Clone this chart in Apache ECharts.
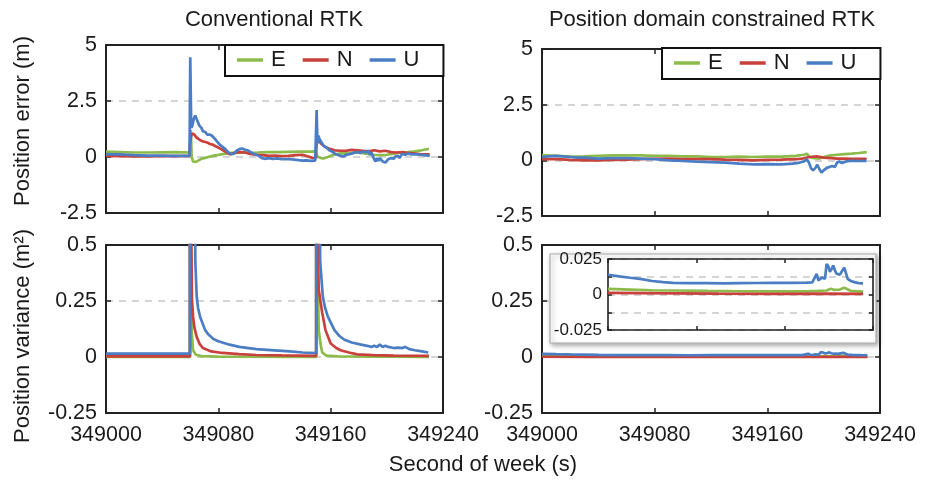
<!DOCTYPE html>
<html><head><meta charset="utf-8">
<script src="https://cdn.jsdelivr.net/npm/echarts@6/dist/echarts.min.js"></script>
<style>html,body{margin:0;padding:0;background:#fff}#c{width:930px;height:480px}</style>
</head><body><div id="c"></div>
<script>
// ---- axis / text data ----
const WEEK_SEC_BASE = 349000;            // x values below are seconds after this
const xTickLabels = ['349000', '349080', '349160', '349240'];
const panelTitles = ['Conventional RTK', 'Position domain constrained RTK'];
const yNames = ['Position error (m)', 'Position variance (m\u00B2)'];
const xName = 'Second of week (s)';
const seriesNames = ['E', 'N', 'U'];

// ---- Conventional RTK, position error (m) ----
const convErrE = [[0,0.24],[10,0.22],[20,0.2],[30,0.2],[40,0.21],[50,0.22],[59.5,0.2],[60,0.15],[60.4,1.2],[61,0.0],[62,-0.2],[63,-0.25],[64,-0.22],[66,-0.15],[68,-0.08],[70,-0.05],[73,0.0],[76,0.05],[79,0.08],[82,0.12],[85,0.15],[89,0.18],[95,0.2],[100,0.19],[108,0.2],[115,0.22],[122,0.22],[130,0.23],[138,0.24],[145,0.24],[149.5,0.25],[150,0.1],[151,0.0],[153,-0.05],[155,-0.06],[158,0.0],[162,0.1],[166,0.15],[170,0.17],[175,0.18],[180,0.2],[185,0.15],[190,0.1],[195,0.08],[200,0.1],[205,0.15],[210,0.2],[215,0.22],[220,0.25],[225,0.3],[230,0.37]];
const convErrN = [[0,0.05],[10,0.04],[20,0.03],[30,0.03],[40,0.04],[50,0.04],[59.5,0.05],[60,0.7],[61,1.05],[62,1.13],[63,1.0],[64,0.9],[65,0.95],[66,0.8],[68,0.72],[70,0.68],[72,0.65],[74,0.58],[76,0.55],[78,0.48],[80,0.42],[82,0.35],[84,0.28],[86,0.2],[88,0.13],[90,0.15],[93,0.2],[96,0.22],[99,0.2],[102,0.15],[105,0.12],[108,0.1],[112,0.08],[116,0.05],[120,0.06],[125,0.04],[130,0.05],[135,0.08],[140,0.1],[144,0.02],[147,-0.04],[149.5,-0.05],[150,0.6],[151,0.9],[152,0.75],[153,0.6],[155,0.5],[157,0.42],[160,0.35],[163,0.3],[167,0.28],[171,0.28],[175,0.32],[179,0.3],[183,0.28],[187,0.25],[191,0.3],[195,0.25],[199,0.28],[203,0.22],[207,0.2],[211,0.22],[215,0.18],[220,0.15],[225,0.12],[230.5,0.12]];
const convErrU = [[0,0.13],[5,0.12],[10,0.12],[15,0.1],[20,0.08],[25,0.07],[30,0.06],[35,0.06],[40,0.06],[45,0.05],[50,0.05],[55,0.05],[59.5,0.05],[60,4.45],[60.7,1.3],[61.5,1.4],[62.5,1.7],[63.5,1.85],[64.5,1.8],[65.5,1.55],[66.5,1.4],[68,1.3],[69,1.15],[70,1.1],[71,1.1],[72,1.0],[74,1.0],[75.5,0.95],[77,0.85],[79,0.7],[81,0.55],[83,0.45],[85,0.35],[87,0.22],[89,0.12],[91,0.15],[93,0.28],[95,0.35],[97,0.38],[99,0.32],[101,0.3],[103,0.22],[105,0.15],[107,0.1],[109,0.05],[111,-0.05],[113,-0.08],[116,-0.05],[119,-0.08],[122,-0.06],[125,-0.1],[128,-0.09],[131,-0.1],[134,-0.12],[137,-0.14],[140,-0.16],[143,-0.15],[146,-0.17],[149,-0.16],[149.7,-0.1],[150,2.1],[150.6,0.6],[151.3,0.95],[152,0.8],[153,0.85],[154,0.6],[155,0.5],[157,0.42],[159,0.3],[161,0.25],[163,0.15],[165,0.1],[167,0.05],[169,0.02],[171,0.1],[173,0.12],[175,0.15],[177,0.2],[179,0.22],[181,0.18],[183,0.25],[185,0.2],[187,0.28],[188,0.1],[189,0.2],[190,0.05],[191,-0.1],[192,-0.2],[193,-0.05],[194,-0.18],[195,-0.05],[196,-0.08],[197,-0.2],[198,-0.15],[199,-0.25],[200,-0.22],[201,-0.1],[202,-0.15],[203,-0.05],[204,0.0],[205,-0.08],[206,0.02],[207,-0.05],[208,0.05],[209,-0.05],[210,0.0],[211,0.15],[212,0.22],[213,0.1],[215,0.15],[218,0.12],[221,0.12],[224,0.1],[227,0.08],[230.5,0.05]];

// ---- Position domain constrained RTK, position error (m) ----
const pdcErrE = [[0,0.23],[10,0.2],[20,0.17],[30,0.18],[40,0.2],[50,0.22],[60,0.22],[70,0.22],[80,0.2],[90,0.2],[100,0.18],[110,0.18],[120,0.15],[130,0.15],[140,0.17],[150,0.15],[160,0.17],[170,0.17],[180,0.2],[186,0.25],[188,0.3],[190,0.15],[193,0.1],[197,0.08],[200,0.15],[205,0.22],[210,0.25],[215,0.28],[220,0.3],[225,0.33],[230.5,0.37]];
const pdcErrN = [[0,0.05],[10,0.05],[20,0.02],[30,0.0],[40,0.0],[50,0.02],[60,0.03],[70,0.05],[80,0.07],[90,0.08],[100,0.06],[110,0.05],[120,0.05],[130,0.03],[140,0.02],[150,0.0],[160,0.02],[170,0.03],[180,0.05],[185,0.08],[190,0.15],[195,0.18],[200,0.12],[205,0.1],[210,0.08],[215,0.08],[220,0.07],[230.5,0.07]];
const pdcErrU = [[0,0.15],[5,0.18],[10,0.2],[15,0.18],[20,0.15],[25,0.12],[30,0.12],[35,0.1],[40,0.08],[50,0.1],[60,0.1],[70,0.08],[80,0.05],[90,0.0],[100,-0.03],[110,-0.06],[120,-0.08],[130,-0.1],[140,-0.15],[150,-0.18],[160,-0.17],[170,-0.18],[178,-0.15],[183,-0.1],[186,-0.05],[188,0.05],[189.5,-0.1],[191,-0.35],[192.5,-0.45],[194,-0.35],[195.5,-0.2],[197,-0.4],[198.5,-0.55],[200,-0.45],[202,-0.35],[204,-0.3],[206,-0.25],[208,-0.3],[209.5,-0.1],[211,-0.05],[213,-0.12],[216,-0.05],[220,-0.02],[225,-0.03],[230.5,-0.02]];

// ---- Conventional RTK, position variance (m^2) ----
const convVarE = [[0,0.0],[30,0.0],[59.8,0.0],[60,20],[60.5,0.5],[61,0.12],[62,0.03],[64,0.01],[68,0.004],[80,0.002],[149.7,0.001],[150,20],[150.5,0.5],[151.5,0.12],[153,0.05],[154,0.02],[157,0.006],[165,0.003],[230,0.001]];
const convVarN = [[0,0.003],[30,0.003],[59.8,0.003],[60,30],[60.8,0.5],[61.2,0.26],[62,0.18],[63,0.13],[64.6,0.09],[66.5,0.06],[69,0.04],[75,0.025],[83,0.018],[95,0.013],[107,0.009],[125,0.007],[149.7,0.005],[150,30],[150.8,0.5],[151.5,0.3],[153.9,0.2],[156.3,0.12],[160,0.06],[164,0.04],[167,0.03],[173,0.02],[179,0.012],[190,0.008],[205,0.006],[230,0.005]];
const convVarU = [[0,0.015],[20,0.015],[40,0.015],[59.8,0.015],[60,40],[63,2],[63.6,0.43],[64.6,0.27],[65.5,0.22],[67,0.18],[70.6,0.12],[73,0.1],[76.5,0.08],[80,0.07],[88,0.055],[95,0.045],[107,0.035],[120,0.03],[131,0.025],[140,0.02],[149.7,0.017],[150,40],[152.2,1.0],[152.5,0.43],[154.4,0.27],[156,0.22],[158,0.18],[162.7,0.12],[166,0.095],[169.8,0.077],[175,0.065],[181.7,0.055],[186,0.05],[189,0.045],[191,0.05],[193,0.045],[195,0.055],[197,0.045],[199,0.05],[201,0.045],[205,0.04],[208,0.042],[211,0.04],[213,0.045],[216,0.035],[220,0.03],[225,0.025],[229.5,0.02]];

// ---- Position domain constrained RTK, position variance (m^2) ----
const pdcVarE = [[0,0.004],[20,0.0035],[40,0.003],[60,0.0028],[90,0.0025],[120,0.0023],[150,0.0022],[180,0.0022],[190,0.0025],[198,0.0028],[200,0.0035],[202,0.004],[205,0.0032],[210,0.0035],[214,0.0047],[216,0.004],[220,0.0025],[231,0.002]];
const pdcVarN = [[0,0.0012],[30,0.001],[60,0.0008],[100,0.0006],[150,0.0005],[200,0.0006],[231,0.0005]];
const pdcVarU = [[0,0.0139],[10,0.0128],[20,0.0118],[29,0.011],[40,0.0095],[50,0.0087],[59,0.0082],[75,0.008],[89,0.008],[105,0.0079],[119,0.008],[135,0.0081],[149,0.0082],[165,0.0082],[180,0.0083],[185,0.0085],[187,0.0115],[189,0.0146],[190.5,0.01],[192,0.009],[194,0.012],[195,0.013],[196.5,0.011],[198,0.0215],[198.5,0.0228],[199.5,0.02],[201,0.016],[202.5,0.018],[204,0.0204],[205.5,0.017],[207,0.0146],[208.5,0.0155],[210,0.014],[212,0.0165],[214,0.019],[215.5,0.015],[217,0.011],[220,0.0095],[223,0.0087],[227,0.008],[231,0.0078]];

// ---- styling ----
const FONT = '"Liberation Sans", Arial, Helvetica, sans-serif';
const COLORS = ['#8CBB4B', '#C9413B', '#4A7DC3'];
const INK = '#1a1a1a';

const panels = [
  { grid: { left: 106, top: 45, width: 337, height: 168 }, y: [-2.5, 5, 2.5], xLabels: false, data: [convErrE, convErrN, convErrU] },
  { grid: { left: 542, top: 49, width: 338, height: 167 }, y: [-2.5, 5, 2.5], xLabels: false, data: [pdcErrE, pdcErrN, pdcErrU] },
  { grid: { left: 106, top: 245, width: 337, height: 168 }, y: [-0.25, 0.5, 0.25], xLabels: true, data: [convVarE, convVarN, convVarU] },
  { grid: { left: 542, top: 245, width: 338, height: 168 }, y: [-0.25, 0.5, 0.25], xLabels: true, data: [pdcVarE, pdcVarN, pdcVarU] },
  { grid: { left: 608, top: 259, width: 265, height: 71 }, y: [-0.025, 0.025, 0.0125], xLabels: false, inset: true, data: [pdcVarE, pdcVarN, pdcVarU] }
];

const grids = [], xAxes = [], yAxes = [], series = [];
panels.forEach((p, i) => {
  const zBase = p.inset ? 11 : 0;
  grids.push(Object.assign({ show: false, z: zBase }, p.grid));
  const tick = { show: true, inside: true, length: p.inset ? 4 : 5, lineStyle: { color: '#222', width: 1.5 } };
  const line = { show: true, onZero: false, lineStyle: { color: '#222', width: p.inset ? 1.6 : 2 } };
  const xBase = { type: 'value', gridIndex: i, min: 0, max: 240, interval: 80, axisLine: line, axisTick: tick, splitLine: { show: false }, z: zBase + 1 };
  xAxes.push(Object.assign({}, xBase, { position: 'bottom', axisLabel: { show: p.xLabels, fontSize: 21.5, fontFamily: FONT, color: INK, margin: 11, showMinLabel: true, showMaxLabel: true, formatter: v => xTickLabels[Math.round(v / 80)] } }));
  xAxes.push(Object.assign({}, xBase, { position: 'top', axisLabel: { show: false } }));
  const yBase = { type: 'value', gridIndex: i, min: p.y[0], max: p.y[1], interval: p.y[2], axisLine: line, axisTick: tick, z: zBase + 1 };
  yAxes.push(Object.assign({}, yBase, {
    position: 'left',
    axisLabel: {
      show: true, fontSize: p.inset ? 17 : 21.5, fontFamily: FONT, color: INK, margin: p.inset ? 6 : 9,
      formatter: p.inset ? (v => (Math.abs(v) < 1e-9 ? '0' : (Math.abs(Math.abs(v) - 0.025) < 1e-9 ? (v > 0 ? '0.025' : '-0.025') : ''))) : undefined
    },
    splitLine: { show: true, lineStyle: { type: [7, 6], color: '#c8c8c8', width: 1.5 } }
  }));
  yAxes.push(Object.assign({}, yBase, { position: 'right', axisLabel: { show: false }, splitLine: { show: false } }));
  p.data.forEach((d, k) => {
    series.push({
      type: 'line', name: seriesNames[k], xAxisIndex: 2 * i, yAxisIndex: 2 * i,
      data: d, showSymbol: false, symbol: 'none', clip: true, silent: true,
      lineStyle: { color: COLORS[k], width: 2.7 }, itemStyle: { color: COLORS[k] },
      z: p.inset ? 13 : 2
    });
  });
});

const legendBase = {
  data: seriesNames, orient: 'horizontal', icon: 'rect', itemWidth: 26, itemHeight: 3.5, itemGap: 17,
  padding: [4, 24, 5, 12], borderColor: '#111', borderWidth: 2, backgroundColor: '#fff', selectedMode: false,
  textStyle: { fontSize: 22, fontFamily: FONT, color: INK, padding: [0, 0, 0, 3] }, z: 6
};

const txt = (text, x, y, rot) => ({
  type: 'text', x: x, y: y, rotation: rot || 0, z: 20,
  style: { text: text, fontSize: 22, fontFamily: FONT, fill: INK, align: 'center', verticalAlign: 'middle' }
});

const option = {
  animation: false,
  backgroundColor: '#fff',
  grid: grids, xAxis: xAxes, yAxis: yAxes, series: series,
  legend: [Object.assign({}, legendBase, { left: 225, top: 45 }), Object.assign({}, legendBase, { left: 662, top: 48 })],
  graphic: [
    { type: 'rect', z: 5, shape: { x: 550, y: 254, width: 326, height: 89 },
      style: { fill: '#fff', stroke: '#b0b0b0', lineWidth: 1.2, shadowBlur: 5, shadowColor: 'rgba(0,0,0,0.35)', shadowOffsetX: 2, shadowOffsetY: 2 } },
    txt(panelTitles[0], 274, 20),
    txt(panelTitles[1], 712, 20),
    txt(yNames[0], 23, 121, Math.PI / 2),
    txt(yNames[1], 23, 336, Math.PI / 2),
    txt(xName, 483, 465)
  ]
};

const chart = echarts.init(document.getElementById('c'), null, { renderer: 'canvas' });
chart.setOption(option);
</script></body></html>
